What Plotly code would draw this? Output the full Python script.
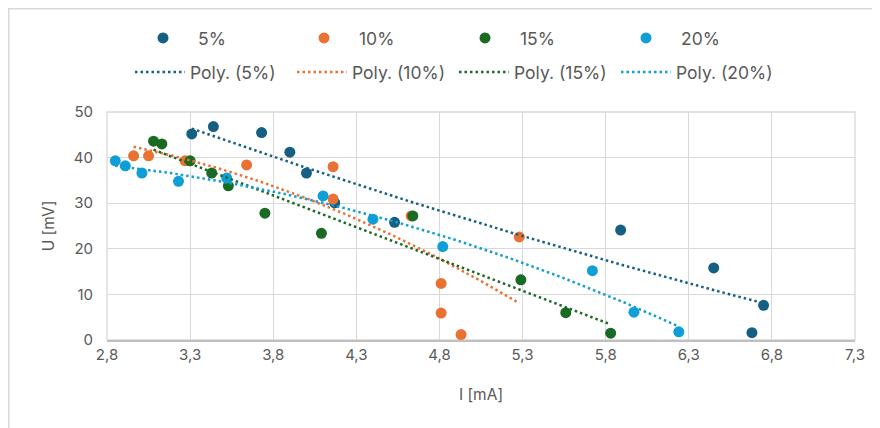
import numpy as np
import plotly.graph_objects as go

# ---- data ----
series_names = ["5%", "10%", "15%", "20%"]
colors = ["#156082", "#E97132", "#196B24", "#0F9ED5"]

x_5 = [3.31, 3.44, 3.73, 3.90, 4.00, 4.17, 4.53, 5.89, 6.45, 6.68, 6.75]
y_5 = [45.2, 46.8, 45.5, 41.2, 36.6, 30.1, 25.8, 24.1, 15.8, 1.6, 7.6]

x_10 = [2.96, 3.05, 3.27, 3.64, 4.16, 4.16, 4.63, 4.81, 4.81, 4.93, 5.28]
y_10 = [40.4, 40.4, 39.3, 38.4, 38.0, 30.9, 27.2, 12.4, 5.9, 1.2, 22.6]

x_15 = [3.08, 3.13, 3.30, 3.43, 3.53, 3.75, 4.09, 4.64, 5.29, 5.56, 5.83]
y_15 = [43.6, 43.0, 39.3, 36.6, 33.8, 27.8, 23.4, 27.2, 13.2, 6.0, 1.5]

x_20 = [2.85, 2.91, 3.01, 3.23, 3.52, 4.10, 4.40, 4.82, 5.72, 5.97, 6.24]
y_20 = [39.3, 38.2, 36.6, 34.8, 35.5, 31.6, 26.5, 20.5, 15.2, 6.1, 1.8]

x_ticks = [2.8, 3.3, 3.8, 4.3, 4.8, 5.3, 5.8, 6.3, 6.8, 7.3]
y_ticks = [0, 10, 20, 30, 40, 50]

xs = [x_5, x_10, x_15, x_20]
ys = [y_5, y_10, y_15, y_20]

FONT = "Inter"
TICKCOL = "#595959"

# page has an 8px body margin; the figure is sized to fit inside the window
W, H = 872, 420
ML, MT = 99, 104
PW, PH = 748, 228

fig = go.Figure()

for name, c, x, y in zip(series_names, colors, xs, ys):
    fig.add_trace(go.Scatter(
        x=x, y=y, mode="markers", name=name,
        marker=dict(color=c, size=11, line=dict(width=0)),
        legend="legend",
    ))

for name, c, x, y in zip(series_names, colors, xs, ys):
    coef = np.polyfit(x, y, 2)
    xt = np.linspace(min(x), max(x), 120)
    yt = np.polyval(coef, xt)
    fig.add_trace(go.Scatter(
        x=xt, y=yt, mode="lines", name=f"Poly. ({name})",
        line=dict(color=c, width=2.5, dash="2.5px,3px"),
        legend="legend2",
    ))

fig.update_layout(
    width=W, height=H,
    margin=dict(l=ML, r=W - ML - PW, t=MT, b=H - MT - PH),
    paper_bgcolor="white", plot_bgcolor="white",
    separators=", ",
    font=dict(family=FONT, color=TICKCOL, size=15),
    legend=dict(orientation="h", xref="container", yref="container",
                x=120 / W, y=1 - 30 / H, xanchor="left", yanchor="middle",
                entrywidth=86, entrywidthmode="pixels", itemwidth=60,
                font=dict(size=17.5, color=TICKCOL, family=FONT),
                bgcolor="rgba(0,0,0,0)"),
    legend2=dict(orientation="h", xref="container", yref="container",
                 x=122 / W, y=1 - 64 / H, xanchor="left", yanchor="middle",
                 entrywidth=97, entrywidthmode="pixels", itemwidth=50,
                 font=dict(size=17.5, color=TICKCOL, family=FONT),
                 bgcolor="rgba(0,0,0,0)"),
    xaxis=dict(range=[2.8, 7.3], tickvals=x_ticks, tickformat=".1f",
               showgrid=True, gridcolor="#D9D9D9", gridwidth=1.3,
               showline=True, linecolor="#BFBFBF", linewidth=1.5, mirror=False,
               zeroline=False, ticks="", tickfont=dict(size=15, color=TICKCOL),
               title=dict(text="I [mA]", font=dict(size=15.5, color=TICKCOL), standoff=26)),
    yaxis=dict(range=[0, 50], tickvals=y_ticks,
               showgrid=True, gridcolor="#D9D9D9", gridwidth=1.3,
               showline=False, zeroline=False, ticks="",
               ticklabelstandoff=13,
               tickfont=dict(size=15, color=TICKCOL),
               title=dict(text="U [mV]", font=dict(size=15.5, color=TICKCOL), standoff=15)),
    shapes=[
        dict(type="rect", xref="paper", yref="paper", x0=0, x1=1, y0=0, y1=1,
             line=dict(color="#D9D9D9", width=1.3), layer="below"),
        dict(type="rect", xref="paper", yref="paper",
             x0=(0.8 - ML) / PW, x1=1.3, y0=-0.6, y1=(PH + MT - 0.8) / PH,
             line=dict(color="#D9D9D9", width=1.5), layer="below"),
    ],
)

fig.write_html("out.html")
